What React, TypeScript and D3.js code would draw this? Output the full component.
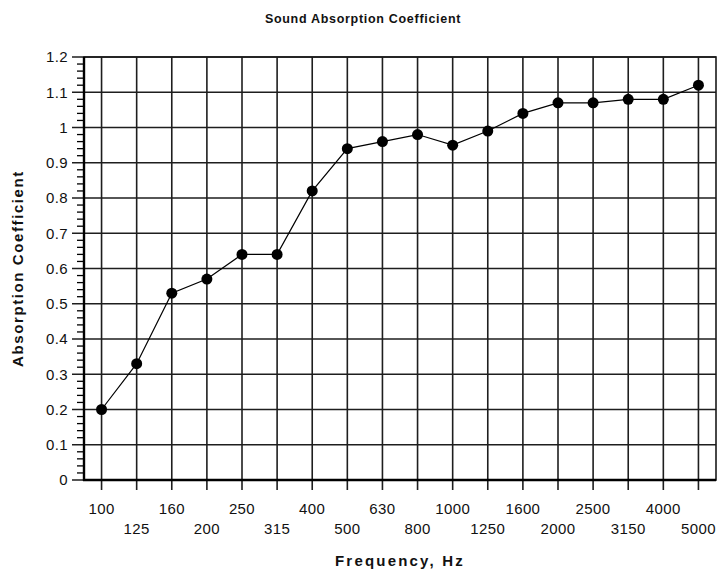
import React, { useEffect, useRef } from 'react';
import * as d3 from 'd3';

const frequencies = ['100', '125', '160', '200', '250', '315', '400', '500', '630', '800', '1000', '1250', '1600', '2000', '2500', '3150', '4000', '5000'];
const absorption = [0.2, 0.33, 0.53, 0.57, 0.64, 0.64, 0.82, 0.94, 0.96, 0.98, 0.95, 0.99, 1.04, 1.07, 1.07, 1.08, 1.08, 1.12];
const yTicks = [0, 0.1, 0.2, 0.3, 0.4, 0.5, 0.6, 0.7, 0.8, 0.9, 1, 1.1, 1.2];

const chartTitle = 'Sound Absorption Coefficient';
const xTitle = 'Frequency, Hz';
const yTitle = 'Absorption Coefficient';

const App: React.FC = () => {
  const svgRef = useRef<SVGSVGElement>(null);

  useEffect(() => {
    if (!svgRef.current) return;
    const svg = d3.select(svgRef.current);
    svg.selectAll('*').remove();

    const width = 726;
    const height = 571;
    const margin = { top: 57, right: 10, bottom: 91, left: 84 };
    const plotRight = width - margin.right;
    const plotBottom = height - margin.bottom;
    const font = 'Arial, "Liberation Sans", sans-serif';

    svg.attr('width', width).attr('height', height);

    const x = d3.scalePoint<string>()
      .domain(frequencies)
      .range([margin.left, plotRight])
      .padding(0.5);

    const y = d3.scaleLinear()
      .domain([0, 1.2])
      .range([plotBottom, margin.top]);

    const gridColor = '#1e1e1e';

    // minor y ticks every 0.02
    const minor = d3.range(0, 1.2001, 0.02).filter(v => Math.abs(v * 10 - Math.round(v * 10)) > 1e-6);
    svg.append('g')
      .selectAll('line')
      .data(minor)
      .enter()
      .append('line')
      .attr('x1', margin.left - 7)
      .attr('x2', margin.left)
      .attr('y1', d => y(d))
      .attr('y2', d => y(d))
      .attr('stroke', '#000')
      .attr('stroke-width', 1.3);

    // horizontal grid + major ticks
    svg.append('g')
      .selectAll('line')
      .data(yTicks)
      .enter()
      .append('line')
      .attr('x1', margin.left - 12)
      .attr('x2', plotRight)
      .attr('y1', d => y(d))
      .attr('y2', d => y(d))
      .attr('stroke', gridColor)
      .attr('stroke-width', 1.6);

    // vertical grid + ticks below
    svg.append('g')
      .selectAll('line')
      .data(frequencies)
      .enter()
      .append('line')
      .attr('x1', d => x(d)!)
      .attr('x2', d => x(d)!)
      .attr('y1', margin.top)
      .attr('y2', plotBottom + 10)
      .attr('stroke', gridColor)
      .attr('stroke-width', 1.6);

    // plot border
    svg.append('rect')
      .attr('x', margin.left)
      .attr('y', margin.top)
      .attr('width', plotRight - margin.left)
      .attr('height', plotBottom - margin.top)
      .attr('fill', 'none')
      .attr('stroke', '#1a1a1a')
      .attr('stroke-width', 1.6);

    // axis lines (heavier)
    svg.append('line')
      .attr('x1', margin.left).attr('x2', margin.left)
      .attr('y1', margin.top).attr('y2', plotBottom + 1)
      .attr('stroke', '#000').attr('stroke-width', 2.4);
    svg.append('line')
      .attr('x1', margin.left - 1).attr('x2', plotRight)
      .attr('y1', plotBottom).attr('y2', plotBottom)
      .attr('stroke', '#000').attr('stroke-width', 2.4);

    // y tick labels
    svg.append('g')
      .selectAll('text')
      .data(yTicks)
      .enter()
      .append('text')
      .attr('x', margin.left - 16)
      .attr('y', d => y(d))
      .attr('dy', '0.35em')
      .attr('text-anchor', 'end')
      .attr('font-family', font)
      .attr('font-size', 15)
      .attr('letter-spacing', 0.4)
      .attr('fill', '#111')
      .text(d => String(d));

    // x tick labels, staggered in two rows
    svg.append('g')
      .selectAll('text')
      .data(frequencies)
      .enter()
      .append('text')
      .attr('x', d => x(d)!)
      .attr('y', (d, i) => (i % 2 === 0 ? plotBottom + 34 : plotBottom + 54))
      .attr('text-anchor', 'middle')
      .attr('font-family', font)
      .attr('font-size', 15)
      .attr('letter-spacing', 0.4)
      .attr('fill', '#111')
      .text(d => d);

    // connecting line
    const line = d3.line<number>()
      .x((d, i) => x(frequencies[i])!)
      .y(d => y(d));

    svg.append('path')
      .datum(absorption)
      .attr('d', line)
      .attr('fill', 'none')
      .attr('stroke', '#000')
      .attr('stroke-width', 1.2);

    svg.append('g')
      .selectAll('circle')
      .data(absorption)
      .enter()
      .append('circle')
      .attr('cx', (d, i) => x(frequencies[i])!)
      .attr('cy', d => y(d))
      .attr('r', 5.5)
      .attr('fill', '#000');

    // titles
    svg.append('text')
      .attr('x', width / 2)
      .attr('y', 23)
      .attr('text-anchor', 'middle')
      .attr('font-family', font)
      .attr('font-size', 12.5)
      .attr('font-weight', 'bold')
      .attr('letter-spacing', 0.7)
      .attr('fill', '#111')
      .text(chartTitle);

    svg.append('text')
      .attr('x', (margin.left + plotRight) / 2)
      .attr('y', 566)
      .attr('text-anchor', 'middle')
      .attr('font-family', font)
      .attr('font-size', 15)
      .attr('font-weight', 'bold')
      .attr('letter-spacing', 2.2)
      .attr('fill', '#111')
      .text(xTitle);

    svg.append('text')
      .attr('transform', `translate(23, ${(margin.top + plotBottom) / 2}) rotate(-90)`)
      .attr('text-anchor', 'middle')
      .attr('font-family', font)
      .attr('font-size', 15)
      .attr('font-weight', 'bold')
      .attr('letter-spacing', 1.6)
      .attr('fill', '#111')
      .text(yTitle);
  }, []);

  return (
    <div style={{ position: 'absolute', left: 0, top: 0, background: '#fff' }}>
      <svg ref={svgRef} style={{ display: 'block' }}></svg>
    </div>
  );
};

export default App;
